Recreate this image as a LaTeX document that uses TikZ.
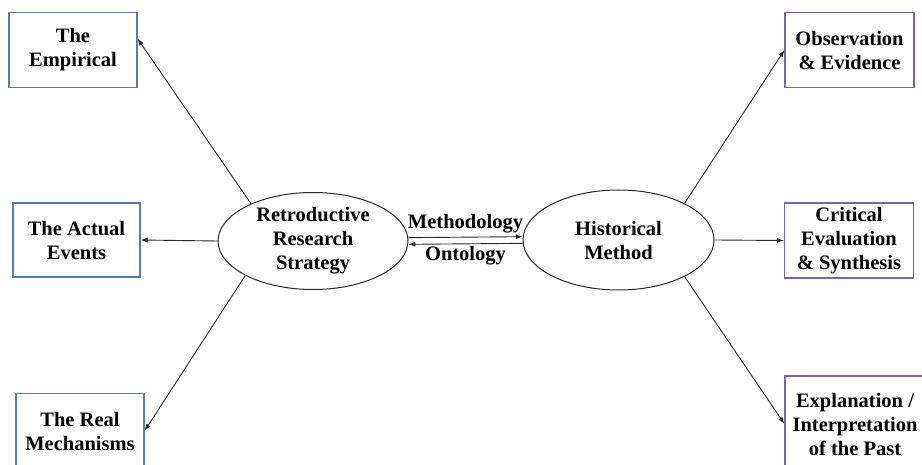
\documentclass[tikz,border=0pt]{standalone}
\usepackage{fontspec}
\setmainfont{Liberation Serif}
\usetikzlibrary{calc,arrows.meta,shapes.geometric}
\definecolor{boxblue}{RGB}{84,122,186}
\definecolor{boxpurple}{RGB}{128,96,168}
\definecolor{linegray}{RGB}{40,40,40}
\begin{document}
\begin{tikzpicture}[x=1pt,y=-1pt,
  every node/.style={font=\fontsize{20.5}{24}\selectfont\bfseries, align=center},
  lbox/.style={draw=boxblue, line width=1.1pt, minimum width=128pt, minimum height=75pt, inner sep=0pt},
  rbox/.style={draw=boxpurple, line width=1.1pt, minimum width=129pt, minimum height=75pt, inner sep=0pt},
  oval/.style={draw=linegray, ellipse, line width=1pt, minimum width=190pt, minimum height=97pt, inner sep=0pt},
  arr/.style={draw=linegray, line width=0.9pt, -{Latex[length=7pt,width=5pt]}},
  lbl/.style={inner sep=1pt}]
\useasboundingbox (0,0) rectangle (922,465);
\clip (0,0) rectangle (922,465);
% left side
\node[lbox] (emp) at (73,50) {The\\Empirical};
\node[lbox, minimum width=127pt, minimum height=74pt] (act) at (76.5,240) {The Actual\\Events};
\node[lbox] (real) at (80,431) {The Real\\Mechanisms};
\node[oval] (ret) at (313,241) {Retroductive\\Research\\Strategy};
% right side
\node[oval, minimum width=191pt, minimum height=100pt] (hist) at (618.5,240) {Historical\\Method};
\node[rbox] (obs) at (849.5,50) {Observation\\\& Evidence};
\node[rbox] (crit) at (849,240.5) {Critical\\Evaluation\\\& Synthesis};
\node[rbox, minimum width=140pt, minimum height=96pt] (expl) at (855,424) {Explanation /\\Interpretation\\of the Past};
% connectors
\draw[arr] (ret.149) -- (emp.10);
\draw[arr] (ret.west) -- (act.east);
\draw[arr] (ret.207) -- (real.east);
\draw[arr] (hist.29) -- (obs.west);
\draw[arr] (hist.east) -- (crit.west);
\draw[arr] (hist.-29) -- (expl.west);
\draw[arr] (ret.2) -- (hist.178) node[lbl, midway, above=3pt] {Methodology};
\draw[arr] (hist.182) -- (ret.-2) node[lbl, midway, below=1pt] {Ontology};
\end{tikzpicture}
\end{document}
